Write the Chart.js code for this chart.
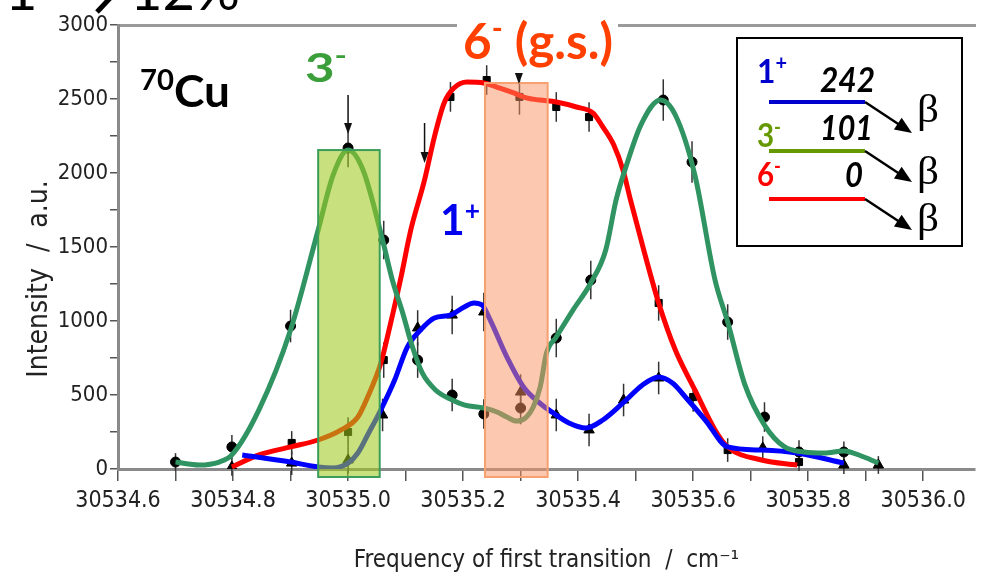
<!DOCTYPE html>
<html>
<head>
<meta charset="utf-8">
<script src="https://cdn.jsdelivr.net/npm/chart.js@4.4.1/dist/chart.umd.min.js"></script>
<style>
  html, body { margin: 0; padding: 0; background: #fff; }
  canvas { display: block; }
</style>
</head>
<body>
<canvas id="spectrum" width="982" height="582"></canvas>
<script>
'use strict';

// ---- fitted curves (frequency in cm-1, intensity in a.u.) ----
const curve3F = [30534.700, 30534.741, 30534.776, 30534.798, 30534.845, 30534.900, 30534.948, 30534.974,
  30535.000, 30535.026, 30535.060, 30535.077, 30535.095, 30535.112, 30535.129, 30535.152, 30535.181,
  30535.203, 30535.236, 30535.259, 30535.276, 30535.293, 30535.310, 30535.322, 30535.334, 30535.345,
  30535.362, 30535.391, 30535.422, 30535.448, 30535.466, 30535.483, 30535.509, 30535.543, 30535.569,
  30535.603, 30535.638, 30535.660, 30535.690, 30535.724, 30535.759, 30535.793, 30535.828, 30535.862,
  30535.897, 30535.922];
const curve3I = [47, 27, 47, 95, 399, 939, 1615, 1986,
  2155, 2020, 1547, 1277, 1054, 824, 649, 534, 466,
  432, 412, 385, 351, 324, 351, 419, 554, 784,
  892, 1074, 1257, 1480, 1818, 2040, 2324, 2493, 2392,
  1986, 1277, 993, 568, 297, 149, 115, 108, 122,
  81, 40];

const curve6F = [30534.798, 30534.845, 30534.900, 30534.948, 30534.988, 30535.017, 30535.034, 30535.057,
  30535.074, 30535.091, 30535.109, 30535.133, 30535.150, 30535.167, 30535.184, 30535.207, 30535.236,
  30535.264, 30535.288, 30535.310, 30535.333, 30535.362, 30535.397, 30535.426, 30535.443, 30535.462,
  30535.478, 30535.491, 30535.514, 30535.540, 30535.569, 30535.603, 30535.638, 30535.660, 30535.719,
  30535.781];
const curve6I = [14, 95, 149, 196, 264, 351, 486, 716,
  986, 1277, 1615, 1953, 2243, 2473, 2574, 2615, 2608,
  2574, 2541, 2507, 2493, 2480, 2446, 2405, 2311, 2189,
  2020, 1818, 1480, 1122, 804, 534, 264, 149, 61,
  27];

const curve1F = [30534.816, 30534.900, 30534.948, 30534.974, 30535.000, 30535.017, 30535.034, 30535.057,
  30535.081, 30535.103, 30535.126, 30535.150, 30535.178, 30535.202, 30535.219, 30535.233, 30535.247,
  30535.276, 30535.305, 30535.333, 30535.357, 30535.384, 30535.414, 30535.443, 30535.478, 30535.512,
  30535.540, 30535.564, 30535.591, 30535.621, 30535.660, 30535.719, 30535.781, 30535.862];
const curve1I = [95, 47, 14, 7, 40, 108, 230, 400,
  601, 824, 939, 1020, 1040, 1095, 1122, 1108, 1007,
  757, 554, 446, 378, 311, 277, 331, 446, 568,
  622, 581, 466, 331, 149, 128, 108, 40];

// ---- measured points with error bars ----
const circleF = [30534.700, 30534.798, 30534.900, 30535.000, 30535.062, 30535.121, 30535.181, 30535.236,
  30535.300, 30535.362, 30535.422, 30535.548, 30535.598, 30535.660, 30535.724, 30535.784, 30535.862];
const circleI = [47, 149, 966, 2169, 1547, 736, 500, 372, 412, 885, 1277, 2493, 2074, 993, 351, 115, 115];
const circleErr = [60, 80, 110, 130, 130, 120, 110, 100, 110, 130, 130, 140, 140, 120, 100, 80, 70];

const squareF = [30534.902, 30535.000, 30535.062, 30535.178, 30535.241, 30535.298, 30535.362, 30535.419,
  30535.540, 30535.600, 30535.660, 30535.784];
const squareI = [176, 250, 736, 2514, 2628, 2514, 2446, 2378, 1122, 486, 128, 47];
const squareErr = [80, 100, 120, 100, 100, 120, 100, 100, 120, 100, 80, 60];

const triangleF = [30534.798, 30534.902, 30535.000, 30535.060, 30535.121, 30535.181, 30535.236, 30535.300,
  30535.362, 30535.419, 30535.479, 30535.540, 30535.721, 30535.862, 30535.922];
const triangleI = [14, 40, 61, 365, 953, 1040, 1061, 520, 365, 264, 466, 615, 142, 27, 27];
const triangleErr = [60, 80, 90, 110, 120, 130, 130, 120, 110, 110, 110, 110, 80, 60, 60];

// ---- highlighted frequency windows and arrows ----
const windowFrom = [30534.948, 30535.238];
const windowTo = [30535.055, 30535.347];
const windowTop = [2155, 2608];
const windowBottom = -54;
const arrowF = [30535.0, 30535.133, 30535.297];
const arrowFrom = [2527, 2338, 2669];
const arrowTo = [2263, 2068, 2601];

// ---- level scheme in the inset ----
const levelSpins = ['1', '3', '6'];
const levelParity = ['+', '-', '-'];
const levelEnergies = ['242', '101', '0'];

const AXIS_FONT = "'Liberation Sans Narrow', 'DejaVu Sans Condensed', 'Liberation Sans', sans-serif";
const LABEL_FONT = "Lato, 'Open Sans', sans-serif";
const NBSP = '\u00a0';

const pts = (f, v) => f.map((x, i) => ({ x: x, y: v[i] }));

/**
 * Draw a row of text runs (main text + superscripts), squeezed to a width.
 */
function drawRuns(ctx, runs, x, y, width, color) {
    ctx.save();
    let total = 0;
    runs.forEach(r => {
        ctx.font = (r.style || 'bold') + ' ' + r.size + 'px ' + (r.family || LABEL_FONT);
        r.w = ctx.measureText(r.t).width;
        total += r.w;
    });
    ctx.translate(x, y);
    ctx.scale(width ? width / total : 1, 1);
    ctx.textBaseline = 'alphabetic';
    ctx.textAlign = 'left';
    let cx = 0;
    runs.forEach(r => {
        ctx.font = (r.style || 'bold') + ' ' + r.size + 'px ' + (r.family || LABEL_FONT);
        ctx.fillStyle = r.color || color;
        ctx.fillText(r.t, cx, -(r.rise || 0));
        cx += r.w;
    });
    ctx.restore();
}

function drawArrow(ctx, x1, y1, x2, y2, head, half) {
    const a = Math.atan2(y2 - y1, x2 - x1);
    const c = Math.cos(a), s = Math.sin(a);
    ctx.beginPath();
    ctx.moveTo(x1, y1);
    ctx.lineTo(x2 - c * head * 0.7, y2 - s * head * 0.7);
    ctx.stroke();
    ctx.beginPath();
    ctx.moveTo(x2, y2);
    ctx.lineTo(x2 - head * c + half * s, y2 - head * s - half * c);
    ctx.lineTo(x2 - head * c - half * s, y2 - head * s + half * c);
    ctx.closePath();
    ctx.fill();
}

const markerSets = [
    { f: circleF, v: circleI, e: circleErr },
    { f: squareF, v: squareI, e: squareErr },
    { f: triangleF, v: triangleI, e: triangleErr }
];

const decorPlugin = {
    id: 'decor',
    beforeDatasetsDraw(chart) {
        const { ctx, scales: { x, y } } = chart;
        ctx.save();
        ctx.strokeStyle = '#333';
        ctx.lineWidth = 1.5;
        markerSets.forEach(s => s.f.forEach((f, i) => {
            const px = x.getPixelForValue(f);
            ctx.beginPath();
            ctx.moveTo(px, y.getPixelForValue(s.v[i] - s.e[i]));
            ctx.lineTo(px, y.getPixelForValue(s.v[i] + s.e[i]));
            ctx.stroke();
        }));
        ctx.restore();
    },
    afterDatasetsDraw(chart) {
        const { ctx, scales: { x, y } } = chart;
        ctx.save();

        // translucent windows on top of the curves
        const fills = ['rgba(158,200,29,0.57)', 'rgba(250,145,95,0.5)'];
        const strokes = ['#3c9d5a', '#f7a070'];
        windowFrom.forEach((f, i) => {
            const x1 = x.getPixelForValue(f), x2 = x.getPixelForValue(windowTo[i]);
            const y1 = y.getPixelForValue(windowTop[i]), y2 = y.getPixelForValue(windowBottom);
            ctx.fillStyle = fills[i];
            ctx.fillRect(x1, y1, x2 - x1, y2 - y1);
            ctx.strokeStyle = strokes[i];
            ctx.lineWidth = 2;
            ctx.strokeRect(x1, y1, x2 - x1, y2 - y1);
        });

        // small downward arrows
        ctx.strokeStyle = '#111';
        ctx.fillStyle = '#111';
        ctx.lineWidth = 1.5;
        arrowF.forEach((f, i) => {
            const px = x.getPixelForValue(f);
            drawArrow(ctx, px, y.getPixelForValue(arrowFrom[i]), px, y.getPixelForValue(arrowTo[i]), 11, 4);
        });

        // break in the top frame behind the ground-state label
        ctx.fillStyle = '#fff';
        ctx.fillRect(457, 12, 161, 26);

        drawRuns(ctx, [{ t: '3', size: 40 }, { t: '-', size: 26, rise: 17 }], 305, 82, 42, '#3a9e3a');
        drawRuns(ctx, [{ t: '70', size: 28, rise: 17 }, { t: 'Cu', size: 44 }], 140, 107, 90, '#000');
        drawRuns(ctx, [{ t: '6', size: 50 }, { t: '-', size: 30, rise: 20 }, { t: ' (g.s.)', size: 50 }],
            463, 59, 150, '#ff4000');
        drawRuns(ctx, [{ t: '1', size: 42 }, { t: '+', size: 26, rise: 15 }], 440, 235, 40, '#0000ee');
        ctx.restore();
    },
    afterDraw(chart) {
        const { ctx } = chart;
        ctx.save();

        // cropped heading from the original slide
        ctx.fillStyle = '#000';
        ctx.font = '56px ' + LABEL_FONT;
        ctx.textBaseline = 'alphabetic';
        ctx.fillText('1', 5, 10);
        ctx.fillText('12%', 130, 10);
        ctx.strokeStyle = '#000';
        ctx.lineWidth = 5;
        ctx.beginPath();
        ctx.moveTo(97, 12);
        ctx.lineTo(114, -6);
        ctx.stroke();

        // level scheme inset
        ctx.fillStyle = '#fff';
        ctx.fillRect(737, 38, 225, 208);
        ctx.strokeStyle = '#000';
        ctx.lineWidth = 2;
        ctx.strokeRect(737, 38, 225, 208);

        const colors = ['#0000cc', '#669900', '#ff0000'];
        const lineY = [102, 151, 199];
        const spinBase = [83, 147, 186];
        const energyBase = [92, 140, 187];
        const energyX = [820, 820, 845];
        const energyW = [55, 53, 18];
        const betaBase = [122, 184, 231];
        levelSpins.forEach((s, i) => {
            drawRuns(ctx, [{ t: s, size: 32 }, { t: levelParity[i], size: 20, rise: 13 }],
                757, spinBase[i], levelParity[i] === '+' ? 30 : 24, colors[i]);
            drawRuns(ctx, [{ t: levelEnergies[i], size: 34, style: 'italic bold' }],
                energyX[i], energyBase[i], energyW[i], '#000');
            ctx.strokeStyle = colors[i];
            ctx.lineWidth = 4;
            ctx.beginPath();
            ctx.moveTo(769, lineY[i]);
            ctx.lineTo(865, lineY[i]);
            ctx.stroke();
            ctx.strokeStyle = '#000';
            ctx.fillStyle = '#000';
            ctx.lineWidth = 2.5;
            drawArrow(ctx, 865, lineY[i], 912, lineY[i] + 31, 17, 7);
            drawRuns(ctx, [{ t: '\u03b2', size: 40, style: 'normal', family: "'Liberation Serif', serif" }],
                917, betaBase[i], 22, '#000');
        });
        ctx.restore();
    }
};

const ctx = document.getElementById('spectrum');

new Chart(ctx, {
    type: 'line',
    data: {
        datasets: [
            {
                label: '3-',
                data: pts(curve3F, curve3I),
                borderColor: '#2f9462',
                borderWidth: 5,
                pointRadius: 0,
                cubicInterpolationMode: 'monotone',
                order: 1
            },
            {
                label: '1+',
                data: pts(curve1F, curve1I),
                borderColor: '#0000ff',
                borderWidth: 5,
                pointRadius: 0,
                cubicInterpolationMode: 'monotone',
                order: 2
            },
            {
                label: '6-',
                data: pts(curve6F, curve6I),
                borderColor: '#ff0000',
                borderWidth: 5,
                pointRadius: 0,
                cubicInterpolationMode: 'monotone',
                order: 3
            },
            {
                type: 'scatter',
                label: 'circles',
                data: pts(circleF, circleI),
                pointStyle: 'circle',
                pointRadius: 5,
                backgroundColor: '#000',
                borderColor: '#000',
                order: 10
            },
            {
                type: 'scatter',
                label: 'squares',
                data: pts(squareF, squareI),
                pointStyle: 'rect',
                pointRadius: 5,
                backgroundColor: '#000',
                borderColor: '#000',
                order: 10
            },
            {
                type: 'scatter',
                label: 'triangles',
                data: pts(triangleF, triangleI),
                pointStyle: 'triangle',
                pointRadius: 6,
                backgroundColor: '#000',
                borderColor: '#000',
                order: 10
            }
        ]
    },
    options: {
        responsive: false,
        animation: false,
        layout: { padding: 0 },
        plugins: {
            legend: { display: false },
            tooltip: { enabled: false }
        },
        scales: {
            x: {
                type: 'linear',
                position: 'bottom',
                min: 30534.6,
                max: 30536.09,
                afterFit(scale) { scale.height = 113; },
                border: { display: true, color: '#8a8a8a', width: 3 },
                grid: { drawOnChartArea: false, drawTicks: true, tickLength: 12, color: '#555', lineWidth: 1.5 },
                ticks: {
                    stepSize: 0.1,
                    includeBounds: false,
                    autoSkip: false,
                    maxRotation: 0,
                    padding: 6,
                    color: '#222',
                    font: { family: AXIS_FONT, size: 23 },
                    callback: v => (Math.round(v * 10) % 2 === 0 ? v.toFixed(1) : '')
                },
                title: {
                    display: true,
                    text: 'Frequency of first transition' + NBSP + NBSP + '/' + NBSP + NBSP + 'cm\u207b\u00b9',
                    color: '#222',
                    font: { family: AXIS_FONT, size: 24 },
                    padding: { top: 0, bottom: 7 }
                }
            },
            x2: {
                type: 'linear',
                position: 'top',
                min: 30534.6,
                max: 30536.09,
                afterFit(scale) { scale.height = 25; },
                border: { display: true, color: '#9a9a9a', width: 3 },
                grid: { display: false },
                ticks: { display: false }
            },
            y: {
                min: 0,
                max: 3000,
                afterFit(scale) { scale.width = 118; },
                border: { display: true, color: '#8a8a8a', width: 3 },
                grid: { drawOnChartArea: false, drawTicks: true, tickLength: 8, color: '#555', lineWidth: 1.5 },
                ticks: {
                    stepSize: 250,
                    autoSkip: false,
                    padding: 2,
                    color: '#222',
                    font: { family: AXIS_FONT, size: 22 },
                    callback: v => (v % 500 === 0 ? v : '')
                },
                title: {
                    display: true,
                    text: 'Intensity' + NBSP + NBSP + '/' + NBSP + NBSP + 'a.u.' + NBSP.repeat(8),
                    color: '#222',
                    font: { family: AXIS_FONT, size: 28 },
                    padding: { top: 23, bottom: 0 }
                }
            }
        }
    },
    plugins: [decorPlugin]
});
</script>
</body>
</html>
